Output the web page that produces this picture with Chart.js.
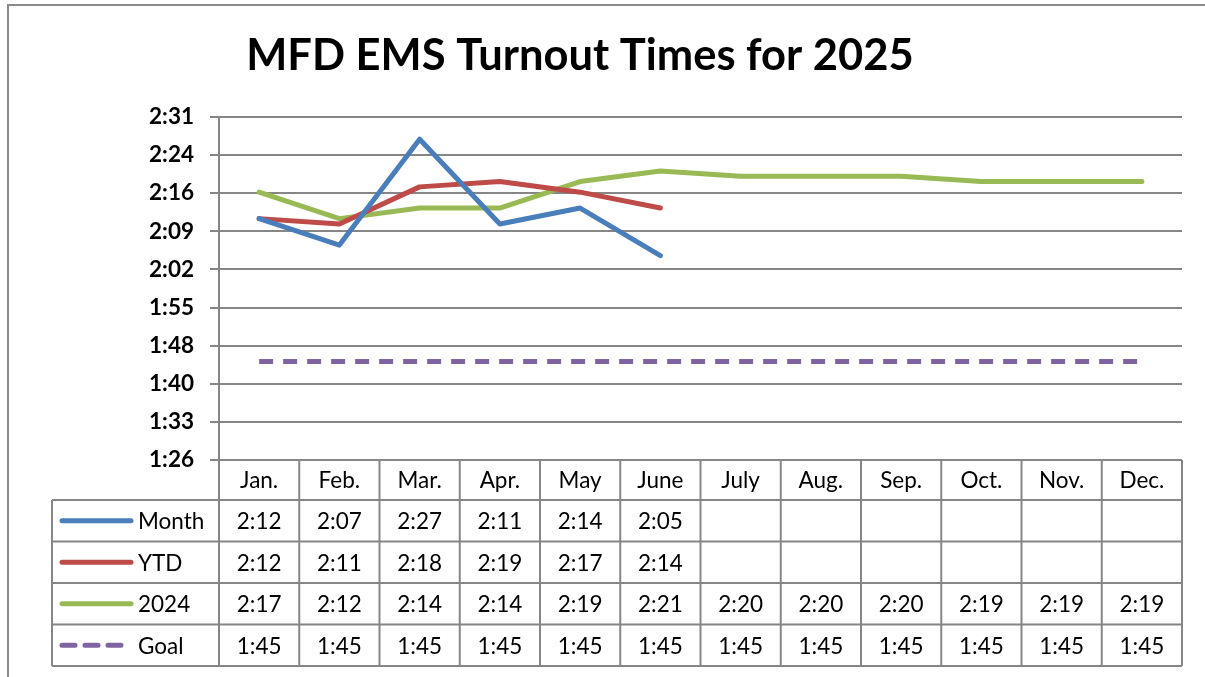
<!DOCTYPE html>
<html>
<head>
<meta charset="utf-8">
<title>MFD EMS Turnout Times for 2025</title>
<script src="https://cdn.jsdelivr.net/npm/chart.js@4.4.1/dist/chart.umd.min.js"></script>
<style>
  body { margin: 0; background: #fff; }
  canvas { display: block; }
</style>
</head>
<body>
<canvas id="turnoutChart" width="1205" height="677"></canvas>
<script>
"use strict";

// maanader
const months = ["Jan.", "Feb.", "Mar.", "Apr.", "May", "June", "July", "Aug.", "Sep.", "Oct.", "Nov.", "Dec."];

// tider i sekunder
const monthSec = [132, 127, 147, 131, 134, 125, null, null, null, null, null, null];
const ytdSec = [132, 131, 138, 139, 137, 134, null, null, null, null, null, null];
const prevYearSec = [137, 132, 134, 134, 139, 141, 140, 140, 140, 139, 139, 139];
const goalSec = [105, 105, 105, 105, 105, 105, 105, 105, 105, 105, 105, 105];

// y-axel
const yTickValues = [86.4, 93.6, 100.8, 108, 115.2, 122.4, 129.6, 136.8, 144, 151.2];
const yTickLabels = ["1:26", "1:33", "1:40", "1:48", "1:55", "2:02", "2:09", "2:16", "2:24", "2:31"];

const seriesNames = ["Month", "YTD", "2024", "Goal"];
const seriesColors = ["#4a7ebb", "#be4b48", "#98b954", "#8064a2"];

const FONT = "Lato, 'DejaVu Sans', sans-serif";
const GRID = "#868686";

function fmt(sec) {
    if (sec === null) return "";
    let m = Math.floor(sec / 60);
    let s = Math.floor(sec % 60);
    return m + ":" + (s < 10 ? "0" : "") + s;
}

// ram + titel
const framePlugin = {
    id: "frame",
    beforeDraw(chart) {
        const ctx = chart.ctx;
        ctx.save();
        ctx.strokeStyle = "#8a8a8a";
        ctx.lineWidth = 2;
        ctx.beginPath();
        ctx.moveTo(1205, 5);
        ctx.lineTo(8, 5);
        ctx.lineTo(8, 677);
        ctx.stroke();

        ctx.fillStyle = "#000";
        ctx.font = "bold 43.5px " + FONT;
        ctx.textAlign = "center";
        ctx.textBaseline = "alphabetic";
        ctx.fillText("MFD EMS Turnout Times for 2025", 580, 70);
        ctx.restore();
    }
};

// datatabell under diagrammet
const tablePlugin = {
    id: "dataTable",
    afterDraw(chart) {
        const ctx = chart.ctx;
        const area = chart.chartArea;
        const xs = chart.scales.x;
        const colW = area.width / months.length;
        const rows = [area.bottom, 500, 541.5, 583, 624.5, 666];
        const legendLeft = 52;
        const allData = [monthSec, ytdSec, prevYearSec, goalSec];

        ctx.save();
        ctx.strokeStyle = GRID;
        ctx.lineWidth = 2;

        // horisontella linjer
        for (let r = 1; r < rows.length; r++) {
            ctx.beginPath();
            ctx.moveTo(legendLeft, rows[r]);
            ctx.lineTo(area.right, rows[r]);
            ctx.stroke();
        }
        // vertikala linjer
        for (let i = 0; i <= months.length; i++) {
            let x = area.left + i * colW;
            ctx.beginPath();
            ctx.moveTo(x, rows[0]);
            ctx.lineTo(x, rows[rows.length - 1]);
            ctx.stroke();
        }
        ctx.beginPath();
        ctx.moveTo(legendLeft, rows[1]);
        ctx.lineTo(legendLeft, rows[rows.length - 1]);
        ctx.stroke();

        ctx.fillStyle = "#000";
        ctx.font = "22.5px " + FONT;
        ctx.textAlign = "center";
        ctx.textBaseline = "middle";

        // manader
        months.forEach((m, i) => {
            ctx.fillText(m, xs.getPixelForValue(i), (rows[0] + rows[1]) / 2 + 1);
        });

        // serier
        allData.forEach((data, r) => {
            let yMid = (rows[r + 1] + rows[r + 2]) / 2 + 1;

            // teckenforklaring
            ctx.save();
            ctx.strokeStyle = seriesColors[r];
            ctx.lineWidth = 5;
            ctx.lineCap = "round";
            if (r === 3) ctx.setLineDash([13, 10]);
            ctx.beginPath();
            ctx.moveTo(62, yMid - 1);
            ctx.lineTo(131, yMid - 1);
            ctx.stroke();
            ctx.restore();

            ctx.textAlign = "left";
            ctx.fillText(seriesNames[r], 138, yMid);
            ctx.textAlign = "center";

            data.forEach((v, i) => {
                ctx.fillText(fmt(v), xs.getPixelForValue(i), yMid);
            });
        });
        ctx.restore();
    }
};

const chartEl = document.getElementById("turnoutChart");
new Chart(chartEl, {
    type: "line",
    data: {
        labels: months,
        datasets: [
            { label: seriesNames[0], data: monthSec, borderColor: seriesColors[0] },
            { label: seriesNames[1], data: ytdSec, borderColor: seriesColors[1] },
            { label: seriesNames[2], data: prevYearSec, borderColor: seriesColors[2] },
            { label: seriesNames[3], data: goalSec, borderColor: seriesColors[3], borderDash: [14, 10], borderCapStyle: "butt" }
        ]
    },
    options: {
        responsive: false,
        animation: false,
        spanGaps: false,
        layout: {
            padding: { left: 0, top: 117, right: 23, bottom: 217 }
        },
        elements: {
            line: { borderWidth: 5, tension: 0, borderCapStyle: "round", borderJoinStyle: "round" },
            point: { radius: 0, hoverRadius: 0 }
        },
        plugins: {
            legend: { display: false },
            title: { display: false },
            tooltip: { enabled: false }
        },
        scales: {
            x: {
                display: false,
                offset: true
            },
            y: {
                min: yTickValues[0],
                max: yTickValues[yTickValues.length - 1],
                afterBuildTicks(scale) {
                    scale.ticks = yTickValues.map(v => ({ value: v }));
                },
                afterFit(scale) {
                    scale.width = 219;
                },
                grid: {
                    color: GRID,
                    lineWidth: 2,
                    tickLength: 9,
                    drawTicks: true
                },
                border: { color: GRID, width: 2 },
                ticks: {
                    padding: 16,
                    color: "#000",
                    font: { family: FONT, size: 22.5, weight: "bold" },
                    callback(value, index) {
                        return yTickLabels[index];
                    }
                }
            }
        }
    },
    plugins: [framePlugin, tablePlugin]
});
</script>
</body>
</html>
